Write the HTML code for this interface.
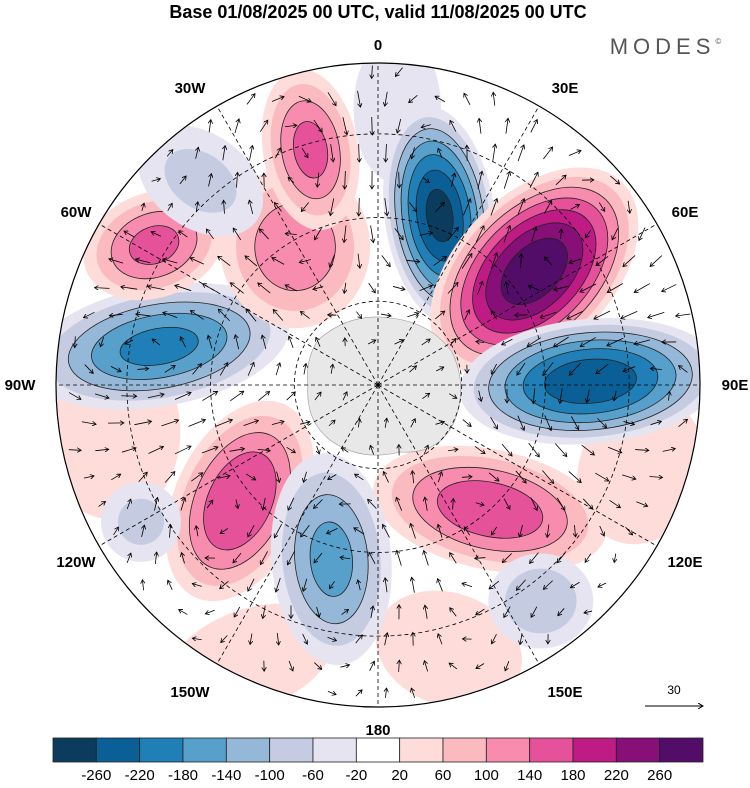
<!DOCTYPE html>
<html><head><meta charset="utf-8"><style>
body{margin:0;background:#fff;width:750px;height:783px;overflow:hidden;font-family:"Liberation Sans",sans-serif}
</style></head><body>
<svg id="chart" width="750" height="783" viewBox="0 0 750 783">
<text x="378" y="18" text-anchor="middle" font-size="18" font-weight="bold">Base 01/08/2025 00 UTC, valid 11/08/2025 00 UTC</text>
<text x="668" y="54" text-anchor="middle" font-size="22" letter-spacing="5" fill="#555">MODES<tspan font-size="8" dy="-10">©</tspan></text>
<defs><clipPath id="cc"><circle cx="378" cy="385" r="322"/></clipPath>
<marker id="ah" markerWidth="6" markerHeight="6" refX="5" refY="3" orient="auto"><path d="M0,0 L5,3 L0,6" fill="none" stroke="#000" stroke-width="1"/></marker></defs>
<g clip-path="url(#cc)" id="mapg"><rect x="0" y="0" width="750" height="783" fill="#fff"/></g>
<circle cx="378" cy="385" r="322" fill="none" stroke="#000" stroke-width="1.2"/>
<g id="labels" font-size="15" font-weight="bold" text-anchor="middle"></g>
<g id="cbar"></g>
<line x1="645" y1="706" x2="703" y2="706" stroke="#000" stroke-width="1" marker-end="url(#ah)"/>
<text x="674" y="694" text-anchor="middle" font-size="12">30</text>
</svg>
<script>
const levels=[-260,-220,-180,-140,-100,-60,-20,20,60,100,140,180,220,260];
const colors=["#0b3c5d","#0a6096","#1f7fb6","#56a0cb","#95b8d8","#c5cce2","#e6e4f0","#ffffff","#fddcda","#fbbac0","#f78cae","#e5529a","#bf1b85","#871078","#520d68"];
// anomaly centres: bearing (deg clockwise from 0), radial fraction, peak value
const blobAngle=[260,165,205,108,4,20,54,89,138,230,195,280,329,344,302,319,143,240];
const blobRadius=[0.84,0.85,0.94,0.86,0.86,0.56,0.60,0.66,0.52,0.56,0.56,0.69,0.50,0.76,0.82,0.84,0.84,0.85];
const blobPeak=[50,50,45,60,-50,-270,290,-250,170,180,-150,-190,130,150,150,-70,-90,-70];
const blobRx=[55,60,70,50,35,44,62,105,95,52,48,105,60,38,58,55,42,32];
const blobRy=[70,45,40,60,60,88,100,50,48,85,85,48,65,65,42,38,38,32];
const blobRot=[0,20,-20,20,0,-8,45,-5,12,25,-5,-10,0,-10,-20,35,0,0];
const lonLabels=["0","30E","60E","90E","120E","150E","180","150W","120W","90W","60W","30W"];
const labelX=[378,565,685,735,685,565,378,190,76,20,76,190];
const labelY=[50,93,217,390,567,697,735,697,567,390,217,93];
const CX=378,CY=385,R=322,NS="http://www.w3.org/2000/svg";
function pos(a,f){const t=a*Math.PI/180;return [CX+f*R*Math.sin(t),CY-f*R*Math.cos(t)];}
function colorFor(v){let i=0;while(i<levels.length&&v>=levels[i])i++;return colors[i];}
const g=document.getElementById('mapg');
// blobs
for(let i=0;i<blobPeak.length;i++){
  const [x,y]=pos(blobAngle[i],blobRadius[i]);const p=blobPeak[i],s=Math.sign(p),m=Math.abs(p);
  const grp=document.createElementNS(NS,'g');
  
  
  for(let L=20;L<m;L+=40){
    const f=Math.pow(1-(L-20)/m,0.65);
    const e=document.createElementNS(NS,'ellipse');
    e.setAttribute('cx',x);e.setAttribute('cy',y);e.setAttribute('rx',blobRx[i]*f*1.25);e.setAttribute('ry',blobRy[i]*f*1.25);
    e.setAttribute('transform',`rotate(${blobRot[i]} ${x} ${y})`);
    e.setAttribute('fill',colorFor(s*(L+1)));
    if(L>=100){e.setAttribute('stroke','#222');e.setAttribute('stroke-width','0.8');}
    
    
    grp.appendChild(e);
  }
  g.appendChild(grp);
}
// land grey (Antarctica)
const ant=document.createElementNS(NS,'path');
ant.setAttribute('d','M318,340 Q350,312 390,318 Q430,322 452,352 Q468,385 455,420 Q440,455 400,452 Q360,462 330,440 Q305,420 308,385 Q305,360 318,340Z');
ant.setAttribute('fill','#e8e8e8');ant.setAttribute('stroke','#999');ant.setAttribute('stroke-width','0.6');


g.appendChild(ant);
// graticule
for(let k=0;k<12;k++){const [x,y]=pos(k*30,1);const l=document.createElementNS(NS,'line');
l.setAttribute('x1',CX);l.setAttribute('y1',CY);l.setAttribute('x2',x);l.setAttribute('y2',y);l.setAttribute('stroke','#000');l.setAttribute('stroke-width','0.8');l.setAttribute('stroke-dasharray','4,3');


g.appendChild(l);}
[0.26,0.52,0.78].forEach(f=>{const c=document.createElementNS(NS,'circle');c.setAttribute('cx',CX);c.setAttribute('cy',CY);c.setAttribute('r',f*R);c.setAttribute('fill','none');c.setAttribute('stroke','#000');c.setAttribute('stroke-width','0.8');c.setAttribute('stroke-dasharray','4,3');


g.appendChild(c);});
// wind arrows derived from anomaly centres
for(let yy=72;yy<705;yy+=27){for(let xx=62;xx<705;xx+=27){
  const ox=xx+((Math.round(yy/27))%2)*13;const d=Math.hypot(ox-CX,yy-CY);if(d>R-8||d<25)continue;
  let u=0,v=0;
  for(let i=0;i<blobPeak.length;i++){const [x,y]=pos(blobAngle[i],blobRadius[i]);const dx=ox-x,dy=yy-y;const sc=(blobRx[i]+blobRy[i])*0.9;const w=Math.exp(-(dx*dx+dy*dy)/(sc*sc))*blobPeak[i]/100;u+=-dy*w/sc;v+=dx*w/sc;}
  const mag=Math.hypot(u,v);if(mag<0.03)continue;const len=Math.min(18,7+mag*10);
  const a=document.createElementNS(NS,'line');
  a.setAttribute('x1',ox-u/mag*len/2);a.setAttribute('y1',yy-v/mag*len/2);a.setAttribute('x2',ox+u/mag*len/2);a.setAttribute('y2',yy+v/mag*len/2);
  a.setAttribute('stroke','#000');a.setAttribute('stroke-width','0.8');a.setAttribute('marker-end','url(#ah)');
  
  
  g.appendChild(a);
}}
// longitude labels
const lg=document.getElementById('labels');
lonLabels.forEach((t,k)=>{const tx=document.createElementNS(NS,'text');
tx.setAttribute('x',labelX[k]);tx.setAttribute('y',labelY[k]);tx.textContent=t;


lg.appendChild(tx);});
// colorbar
const cb=document.getElementById('cbar');const x0=53,w=650/15;
colors.forEach((c,i)=>{const r=document.createElementNS(NS,'rect');r.setAttribute('x',x0+i*w);r.setAttribute('y',738);r.setAttribute('width',w);r.setAttribute('height',24);r.setAttribute('fill',c);r.setAttribute('stroke','#222');r.setAttribute('stroke-width','0.8');


cb.appendChild(r);});
levels.forEach((l,i)=>{const t=document.createElementNS(NS,'text');t.setAttribute('x',x0+(i+1)*w);t.setAttribute('y',780);t.setAttribute('text-anchor','middle');t.setAttribute('font-size','15');t.textContent=l;


cb.appendChild(t);});
</script>
</body></html>
